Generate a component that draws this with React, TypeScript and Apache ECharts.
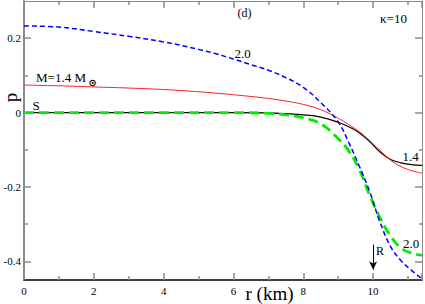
import React, { useEffect, useRef } from "react";
import * as echarts from "echarts";

// r (km) sample points per curve
const rBlack = [0, 1, 2, 3, 4, 5, 6, 7, 7.5, 8, 8.5, 9, 9.3, 9.6, 9.9, 10.2, 10.5, 10.8, 11.1, 11.4];
const pBlack = [0, 0, 0, 0, 0, 0, 0, -0.001, -0.003, -0.006, -0.012, -0.026, -0.038, -0.054, -0.078, -0.106, -0.126, -0.135, -0.14, -0.142];

const rRed = [0, 1, 2, 3, 4, 5, 6, 7, 7.5, 8, 8.5, 9, 9.3, 9.6, 9.9, 10.2, 10.5, 10.8, 11.1, 11.4];
const pRed = [0.074, 0.072, 0.069, 0.066, 0.062, 0.056, 0.048, 0.038, 0.031, 0.022, 0.008, -0.015, -0.032, -0.051, -0.075, -0.102, -0.128, -0.145, -0.156, -0.163];

const rBlue = [0, 1, 2, 3, 4, 5, 5.5, 6, 6.5, 7, 7.5, 8, 8.5, 9, 9.3, 9.6, 9.9, 10.2, 10.5, 10.8, 11.1, 11.4];
const pBlue = [0.233, 0.23, 0.218, 0.205, 0.19, 0.17, 0.158, 0.144, 0.129, 0.114, 0.094, 0.068, 0.027, -0.025, -0.08, -0.143, -0.212, -0.295, -0.36, -0.398, -0.424, -0.447];

const rGreen = [0, 1, 2, 3, 4, 5, 6, 7, 7.5, 8, 8.5, 9, 9.3, 9.6, 9.9, 10.2, 10.5, 10.8, 11.1, 11.4];
const pGreen = [0, 0, 0, 0, 0, 0, 0, -0.002, -0.006, -0.014, -0.03, -0.07, -0.103, -0.152, -0.222, -0.283, -0.332, -0.364, -0.378, -0.383];

const xTicks = [0, 2, 4, 6, 8, 10];
const yTicks = [-0.4, -0.2, 0, 0.2];
const yMinorTicks = [-0.3, -0.1, 0.1];

const arrowR = 10;
const arrowFrom = -0.355;
const arrowTo = -0.422;

const X_MIN = 0;
const X_MAX = 11.4;
const Y_MIN = -0.45;
const Y_MAX = 0.3;

const zip = (xs: number[], ys: number[]) => xs.map((x, i) => [x, ys[i]]);

const SERIF = "'Liberation Serif', 'Times New Roman', serif";

export default function App() {
  const ref = useRef<HTMLDivElement>(null);
  useEffect(() => {
    if (!ref.current) return;
    const chart = echarts.init(ref.current, undefined, { renderer: "svg" });
    const gray = "#8a8a8a";
    const majorTick = (vals?: number[]) => ({
      show: true,
      inside: true,
      length: 7,
      lineStyle: { color: gray, width: 1.5 },
      ...(vals ? { customValues: vals } : {}),
    });
    const minorTickY = (vals: number[]) => ({
      show: true,
      inside: true,
      length: 4,
      lineStyle: { color: gray, width: 1.5 },
      customValues: vals,
    });
    const minorCommon = {
      show: true,
      splitNumber: 2,
      length: 4,
      lineStyle: { color: gray, width: 1.5 },
    };
    const t = (text: string, x: number, y: number, size: number, extra: any = {}) => ({
      type: "text",
      x,
      y,
      silent: true,
      style: {
        text,
        fill: "#000",
        font: `${size}px ${SERIF}`,
        align: "center",
        verticalAlign: "middle",
        ...extra,
      },
    });
    const gridBox = { left: 24, right: 2, top: 1, bottom: 24, containLabel: false };
    const hiddenX = (gi: number) => ({
      type: "value",
      gridIndex: gi,
      min: X_MIN,
      max: X_MAX,
      show: true,
      axisLine: { show: false },
      axisTick: { show: false },
      axisLabel: { show: false },
      splitLine: { show: false },
    });
    chart.setOption({
      animation: false,
      backgroundColor: "#fff",
      grid: [gridBox, gridBox],
      xAxis: [
        {
          type: "value",
          gridIndex: 0,
          min: X_MIN,
          max: X_MAX,
          interval: 2,
          axisLine: { show: true, onZero: false, lineStyle: { color: "#000", width: 1.5 } },
          axisTick: majorTick(),
          minorTick: minorCommon,
          splitLine: { show: false },
          axisLabel: {
            margin: 5,
            color: "#000",
            fontFamily: SERIF,
            fontSize: 11,
            formatter: (v: number) => (xTicks.includes(v) ? String(v) : ""),
          },
        },
        {
          type: "value",
          gridIndex: 0,
          position: "top",
          min: X_MIN,
          max: X_MAX,
          interval: 2,
          axisLine: { show: true, onZero: false, lineStyle: { color: gray, width: 1 } },
          axisTick: majorTick(),
          minorTick: minorCommon,
          splitLine: { show: false },
          axisLabel: { show: false },
        },
        hiddenX(1),
      ],
      yAxis: [
        {
          type: "value",
          gridIndex: 0,
          min: Y_MIN,
          max: Y_MAX,
          interval: 0.05,
          axisLine: { show: true, onZero: false, lineStyle: { color: gray, width: 2 } },
          axisTick: majorTick(yTicks),
          splitLine: { show: false },
          axisLabel: {
            margin: 3,
            color: "#000",
            fontFamily: SERIF,
            fontSize: 11,
            customValues: yTicks,
            formatter: (v: number) => (Math.abs(v) < 1e-9 ? "0" : String(Math.round(v * 10) / 10)),
          },
        },
        {
          type: "value",
          gridIndex: 0,
          position: "right",
          min: Y_MIN,
          max: Y_MAX,
          interval: 0.05,
          axisLine: { show: true, onZero: false, lineStyle: { color: gray, width: 1 } },
          axisTick: majorTick(yTicks),
          splitLine: { show: false },
          axisLabel: { show: false },
        },
        {
          type: "value",
          gridIndex: 1,
          position: "left",
          min: Y_MIN,
          max: Y_MAX,
          interval: 0.05,
          axisLine: { show: false },
          axisTick: minorTickY(yMinorTicks),
          splitLine: { show: false },
          axisLabel: { show: false },
        },
        {
          type: "value",
          gridIndex: 1,
          position: "right",
          min: Y_MIN,
          max: Y_MAX,
          interval: 0.05,
          axisLine: { show: false },
          axisTick: minorTickY(yMinorTicks),
          splitLine: { show: false },
          axisLabel: { show: false },
        },
      ],
      series: [
        {
          type: "line",
          name: "black",
          data: zip(rBlack, pBlack),
          showSymbol: false,
          smooth: 0.4,
          lineStyle: { color: "#000", width: 1.2 },
          z: 2,
          markLine: {
            silent: true,
            symbol: ["none", "arrow"],
            symbolSize: [6, 8],
            label: { show: false },
            lineStyle: { color: "#000", width: 1, type: "solid" },
            data: [[{ coord: [arrowR, arrowFrom] }, { coord: [arrowR, arrowTo] }]],
          },
        },
        {
          type: "line",
          name: "green",
          data: zip(rGreen, pGreen),
          showSymbol: false,
          smooth: 0.4,
          lineStyle: { color: "#00ee00", width: 2.8, type: [10, 5] },
          z: 3,
        },
        {
          type: "line",
          name: "red",
          data: zip(rRed, pRed),
          showSymbol: false,
          smooth: 0.4,
          lineStyle: { color: "#ff2020", width: 1 },
          z: 4,
        },
        {
          type: "line",
          name: "blue",
          data: zip(rBlue, pBlue),
          showSymbol: false,
          smooth: 0.4,
          lineStyle: { color: "#0000ff", width: 1.5, type: [5, 3] },
          z: 5,
        },
      ],
      graphic: [
        t("(d)", 244.5, 13, 12),
        t("κ=10", 393.5, 18, 13),
        t("2.0", 242.5, 53, 13),
        t("M=1.4 M", 36, 77.5, 13, { align: "left" }),
        t("⊙", 92.7, 82, 10, { font: `bold 10px 'DejaVu Sans', sans-serif` }),
        t("S", 36, 105, 13),
        t("1.4", 410.5, 156.5, 13),
        t("2.0", 411, 243, 13),
        t("R", 380, 250.5, 12),
        t("r (km)", 269.5, 293, 19),
        {
          type: "text",
          x: 10,
          y: 97.5,
          rotation: Math.PI / 2,
          silent: true,
          style: {
            text: "p",
            fill: "#000",
            font: `19px ${SERIF}`,
            align: "center",
            verticalAlign: "middle",
          },
        },
      ],
    });
    return () => chart.dispose();
  }, []);
  return (
    <div
      ref={ref}
      style={{ position: "absolute", left: 0, top: 0, width: 425, height: 304 }}
    />
  );
}
